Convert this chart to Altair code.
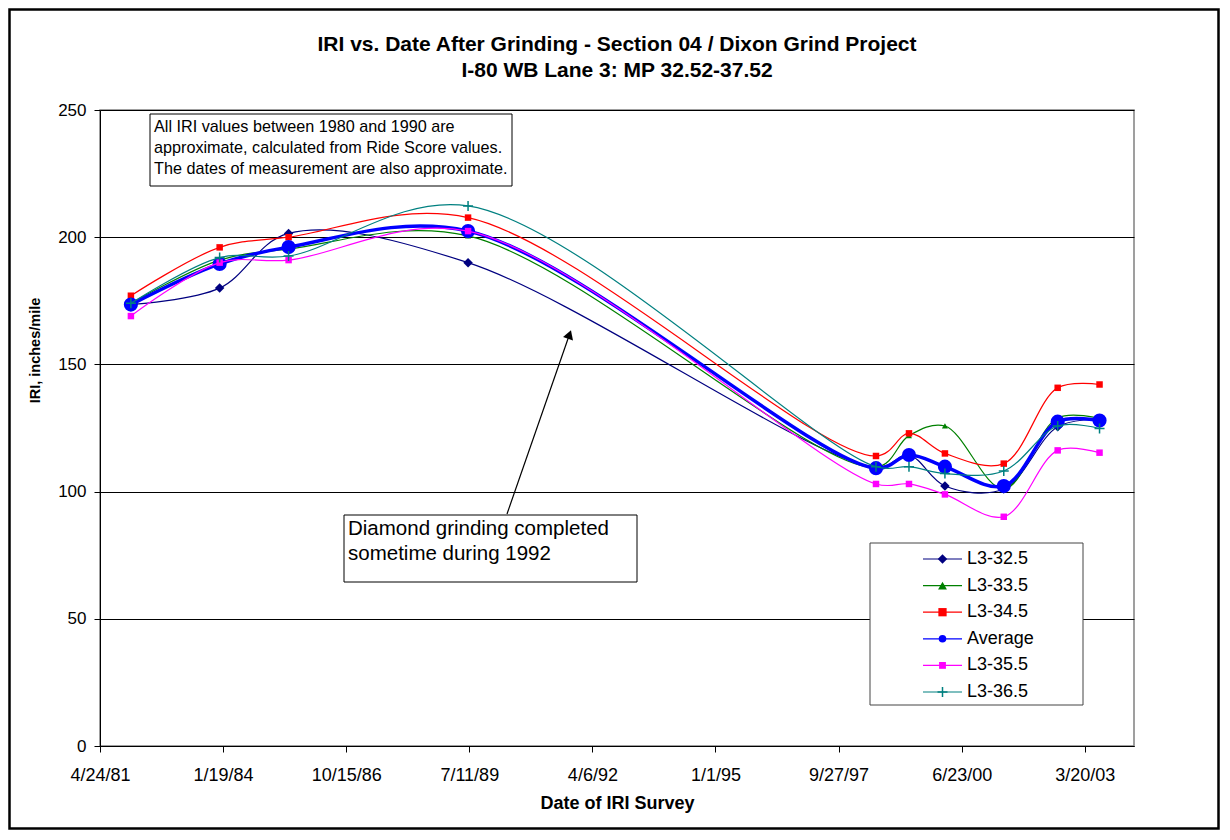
import altair as alt
import pandas as pd

# ---------------- data ----------------
survey_dates = ["1981-12-31", "1983-12-22", "1985-07-04", "1989-07-01", "1998-07-28",
                "1999-04-22", "2000-02-08", "2001-05-31", "2002-08-12", "2003-07-18"]
series_names = ["L3-32.5", "L3-33.5", "L3-34.5", "Average", "L3-35.5", "L3-36.5"]
l3_325 = [173.5, 180.0, 201.5, 190.0, 109.6, 114.3, 102.2, 101.0, 125.5, 128.5]
l3_335 = [174.0, 191.0, 195.3, 200.5, 109.6, 122.0, 125.8, 101.0, 129.0, 128.8]
l3_345 = [177.0, 196.0, 200.0, 207.7, 114.0, 122.9, 115.0, 111.0, 140.8, 142.1]
average = [173.5, 189.5, 196.1, 202.4, 109.2, 114.4, 109.8, 102.2, 127.5, 127.9]
l3_355 = [169.0, 190.0, 191.0, 202.4, 103.0, 103.0, 98.9, 90.1, 116.2, 115.3]
l3_365 = [174.0, 192.0, 192.6, 212.3, 109.8, 109.8, 107.1, 108.1, 125.8, 124.8]
x_tick_labels = ["4/24/81", "1/19/84", "10/15/86", "7/11/89", "4/6/92",
                 "1/1/95", "9/27/97", "6/23/00", "3/20/03"]
x_domain_dates = ["1981-04-24", "2004-04-23"]
y_domain = [0, 250]

title_line1 = "IRI vs. Date After Grinding - Section 04 / Dixon Grind Project"
title_line2 = "I-80 WB Lane 3: MP 32.52-37.52"
note_lines = ["All IRI values between 1980 and 1990 are",
              "approximate, calculated from Ride Score values.",
              "The dates of measurement are also approximate."]
grind_lines = ["Diamond grinding completed", "sometime during 1992"]

# ---------------- styles ----------------
FONT = "Liberation Sans"
PLUS = "M-1,0H1M0,-1V1"
colors = ["#000080", "#008000", "#FF0000", "#0000FF", "#FF00FF", "#008080"]
shapes = ["diamond", "triangle-up", "square", "circle", "square", PLUS]
sizes = [90, 36, 42, 200, 42, 100]
widths = [1.2, 1.2, 1.2, 3.5, 1.2, 1.2]

W, H = 1034, 636
PAD = {"left": 92, "top": 102, "right": 86, "bottom": 84}

values = [l3_325, l3_335, l3_345, average, l3_355, l3_365]
rows = []
for name, vals in zip(series_names, values):
    for d, v in zip(survey_dates, vals):
        rows.append({"date": d, "series": name, "iri": v})
df = pd.DataFrame(rows)


def ms(s):
    return int(pd.Timestamp(s).value // 10**6)


tick_ms = [ms(pd.to_datetime(t, format="%m/%d/%y")) for t in x_tick_labels]
x_dom = [ms(s) for s in x_domain_dates]

x_enc = alt.X(
    "date:T",
    scale=alt.Scale(type="utc", domain=x_dom, nice=False),
    axis=alt.Axis(values=tick_ms,
                  labelExpr="utcFormat(datum.value, '%-m/%-d/%y')",
                  grid=False, tickSize=6, tickColor="black", domainColor="black",
                  labelFont=FONT, labelFontSize=18, labelColor="black", labelPadding=14,
                  labelFlush=False, labelOverlap=False,
                  titleFont=FONT, titleFontSize=18, titleFontWeight="bold",
                  titleColor="black", titlePadding=10),
    title="Date of IRI Survey",
)
y_enc = alt.Y(
    "iri:Q",
    scale=alt.Scale(domain=y_domain, nice=False),
    axis=alt.Axis(values=[0, 50, 100, 150, 200, 250], grid=True, gridColor="black",
                  gridWidth=1, tickSize=6, tickColor="black", domainColor="black",
                  labelFont=FONT, labelFontSize=17, labelColor="black", labelPadding=8,
                  titleFont=FONT, titleFontSize=14.5, titleFontWeight="bold",
                  titleColor="black", titleX=-65, titleY=240, titleAngle=270,
                  titleAlign="center", titleBaseline="middle"),
    title="IRI, inches/mile",
)

base = alt.Chart(df)
data_layers = []
for i, name in enumerate(series_names):
    sub = base.transform_filter(alt.datum.series == name)
    data_layers.append(
        sub.mark_line(interpolate="catmull-rom", color=colors[i], strokeWidth=widths[i])
        .encode(x=x_enc, y=y_enc)
    )
    if shapes[i] == PLUS:
        pt = sub.mark_point(shape=PLUS, filled=False, size=sizes[i], color=colors[i],
                            strokeWidth=1.5, opacity=1)
    else:
        pt = sub.mark_point(shape=shapes[i], filled=True, size=sizes[i], color=colors[i],
                            opacity=1)
    data_layers.append(pt.encode(x=x_enc, y=y_enc))

one = alt.Chart(pd.DataFrame({"k": [0]}))

# chart title (two centred lines above the plot)
title1 = one.mark_text(text=title_line1, align="center", baseline="middle", font=FONT,
                       fontSize=21, fontWeight="bold", color="black").encode(
    x=alt.value(W / 2), y=alt.value(-65))
title2 = one.mark_text(text=title_line2, align="center", baseline="middle", font=FONT,
                       fontSize=21, fontWeight="bold", color="black").encode(
    x=alt.value(W / 2), y=alt.value(-39))

# note box (top-left)
note_box = one.mark_rect(fill="white", stroke="black", strokeWidth=1).encode(
    x=alt.value(50), x2=alt.value(412), y=alt.value(4), y2=alt.value(76))
note_text = one.mark_text(text=note_lines, align="left", baseline="top", font=FONT,
                          fontSize=16.2, lineHeight=21, color="black").encode(
    x=alt.value(54), y=alt.value(8.5))

# grinding annotation
grind_box = one.mark_rect(fill="white", stroke="black", strokeWidth=1).encode(
    x=alt.value(244), x2=alt.value(537), y=alt.value(405), y2=alt.value(472))
grind_text = one.mark_text(text=grind_lines, align="left", baseline="top", font=FONT,
                           fontSize=20.5, lineHeight=25, color="black").encode(
    x=alt.value(248), y=alt.value(409))
arrow_line = one.mark_rule(color="black", strokeWidth=1.2).encode(
    x=alt.value(407), y=alt.value(404), x2=alt.value(470), y2=alt.value(223))
arrow_head = one.mark_point(shape="triangle-up", filled=True, color="black", size=110,
                            angle=19, opacity=1).encode(
    x=alt.value(469.5), y=alt.value(224.5))

# outer border
border = one.mark_rect(fill=None, stroke="black", strokeWidth=2.5).encode(
    x=alt.value(-PAD["left"] + 1.5), x2=alt.value(W + PAD["right"] - 1.5),
    y=alt.value(-PAD["top"] + 1.5), y2=alt.value(H + PAD["bottom"] - 1.5))

# legend (drawn manually: line + marker per series)
leg_df = pd.DataFrame({"series": series_names})
leg = alt.Chart(leg_df)
yl = alt.Y("series:N", scale=alt.Scale(type="point", domain=series_names,
                                       range=[449, 582], padding=0), axis=None)
cl = alt.Color("series:N", scale=alt.Scale(domain=series_names, range=colors), legend=None)
leg_box = one.mark_rect(fill="white", stroke="#444444", strokeWidth=1).encode(
    x=alt.value(770), x2=alt.value(983), y=alt.value(433), y2=alt.value(595))
leg_rule = leg.mark_rule().encode(
    x=alt.value(823), x2=alt.value(862), y=yl, color=cl,
    strokeWidth=alt.StrokeWidth("series:N", scale=alt.Scale(domain=series_names, range=widths),
                                legend=None))
leg_pts = leg.transform_filter(alt.datum.series != "L3-36.5").mark_point(
    filled=True, opacity=1).encode(
    x=alt.value(842.5), y=yl, color=cl,
    shape=alt.Shape("series:N", scale=alt.Scale(domain=series_names, range=shapes), legend=None),
    size=alt.Size("series:N", scale=alt.Scale(domain=series_names, range=sizes), legend=None))
leg_plus = leg.transform_filter(alt.datum.series == "L3-36.5").mark_point(
    shape=PLUS, filled=False, size=100, strokeWidth=1.5, color="#008080", opacity=1).encode(
    x=alt.value(842.5), y=yl)
leg_text = leg.mark_text(align="left", baseline="middle", font=FONT, fontSize=18,
                         color="black").encode(x=alt.value(867), y=yl, text="series:N")

data_chart = alt.layer(*data_layers)
legend_chart = alt.layer(leg_box, leg_rule, leg_pts, leg_plus, leg_text)
annot = alt.layer(title1, title2, note_box, note_text, grind_box, grind_text,
                  arrow_line, arrow_head, border)

chart = alt.layer(data_chart, annot, legend_chart).resolve_scale(
    y="independent", color="independent", shape="independent", size="independent",
    strokeWidth="independent"
).properties(
    width=W, height=H,
    autosize=alt.AutoSizeParams(type="none"),
    padding=PAD,
    background="white",
).configure_view(stroke="#808080", strokeWidth=1.5)

chart.save("out.html", embed_options={"renderer": "svg", "actions": False})
